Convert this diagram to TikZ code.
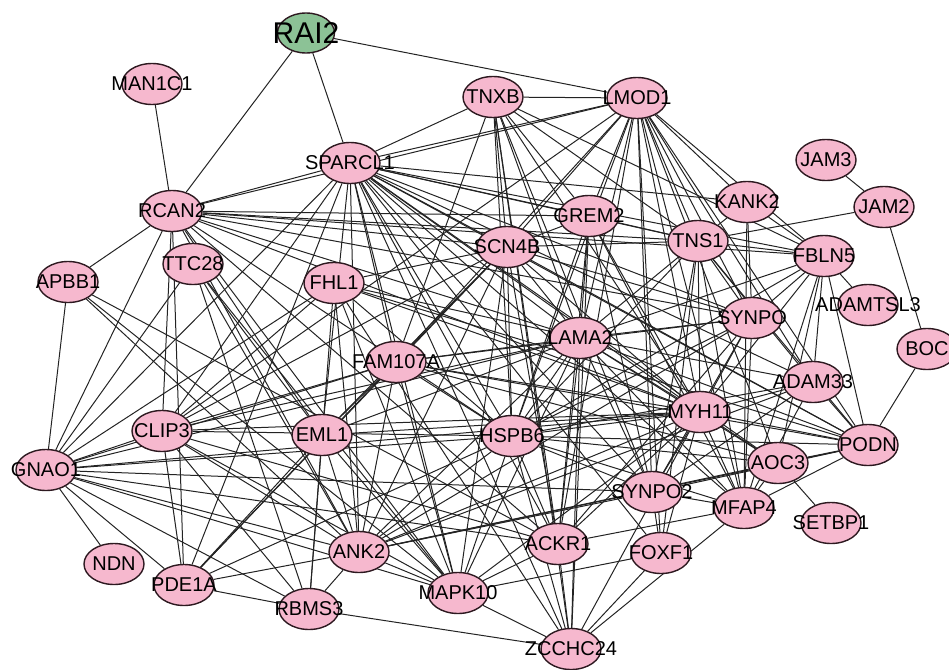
\documentclass[tikz,border=0pt]{standalone}
\usepackage{fontspec}
\setmainfont{Liberation Sans}
\usetikzlibrary{shapes.geometric,backgrounds}
\definecolor{pinkfill}{RGB}{246,184,206}
\definecolor{greenfill}{RGB}{140,194,150}
\definecolor{edgec}{RGB}{35,35,35}
\definecolor{outl}{RGB}{45,25,32}
\tikzset{
  gene/.style={ellipse, draw=outl, fill=pinkfill, line width=1.4pt, minimum width=60pt, minimum height=41pt, inner sep=0pt},
  hub/.style={gene, fill=greenfill, minimum width=57pt, minimum height=40pt},
  lbl/.style={inner sep=0pt, font=\fontsize{20}{20}\selectfont, text=black},
  biglbl/.style={inner sep=0pt, font=\fontsize{30}{30}\selectfont, text=black},
  edge/.style={draw=edgec, line width=1pt}
}
\begin{document}
\begin{tikzpicture}[x=1pt,y=-1pt]
\useasboundingbox (0,0) rectangle (949,669);
% nodes
\node[hub] (RAI2) at (306,33) {};
\node[biglbl] (tRAI2) at (RAI2) {RAI2};
\foreach \n/\x/\y in {
 MAN1C1/152/84, TNXB/493/97, LMOD1/637/98, SPARCL1/350/163, JAM3/826/160,
 RCAN2/172/211, KANK2/747/202, JAM2/884/207, GREM2/589/216, TNS1/698/241,
 SCN4B/507/247, FBLN5/824/256, TTC28/193/264, APBB1/68/282, FHL1/334/283,
 ADAMTSL3/868/305, SYNPO/752/318, LAMA2/580/338, BOC/927/349, FAM107A/396/362,
 ADAM33/813/382, MYH11/700/412, CLIP3/162/431, EML1/322/435, HSPB6/512/436,
 PODN/868/445, AOC3/778/463, GNAO1/46/470, SYNPO2/652/492, MFAP4/744/508,
 SETBP1/831/523, ACKR1/558/544, ANK2/359/552, FOXF1/661/553, NDN/114/564,
 PDE1A/184/585, MAPK10/458/593, RBMS3/309/609, ZCCHC24/571/649}
{
  \node[gene] (\n) at (\x,\y) {};
  \node[lbl] (t\n) at (\n) {\n};
}
% connectors
\begin{pgfonlayer}{background}
\foreach \s/\ts in {
 RAI2/{RCAN2,SPARCL1,LMOD1},
 MAN1C1/{RCAN2},
 JAM3/{JAM2},
 JAM2/{TNS1,BOC},
 BOC/{PODN},
 SETBP1/{AOC3},
 ADAMTSL3/{FBLN5},
 NDN/{GNAO1},
 TNXB/{LMOD1,SPARCL1,GREM2,SCN4B,LAMA2,MYH11,HSPB6,FBLN5,TNS1,ACKR1,FAM107A,ZCCHC24,SYNPO2},
 LMOD1/{SPARCL1,RCAN2,SCN4B,FAM107A,GREM2,LAMA2,HSPB6,ACKR1,MYH11,SYNPO2,FOXF1,MFAP4,TNS1,KANK2,FBLN5,SYNPO,ADAM33,AOC3,PODN,CLIP3},
 SPARCL1/{RCAN2,GREM2,TNS1,FBLN5,KANK2,SCN4B,LAMA2,MYH11,SYNPO,ADAM33,PODN,HSPB6,AOC3,MFAP4,SYNPO2,ACKR1,ZCCHC24,MAPK10,FOXF1,ANK2,EML1,FAM107A,CLIP3,GNAO1,PDE1A},
 RCAN2/{GREM2,TNS1,FBLN5,SCN4B,LAMA2,MYH11,HSPB6,ACKR1,MAPK10,ANK2,EML1,CLIP3,PDE1A,GNAO1,APBB1,SYNPO},
 GREM2/{TNS1,LAMA2,HSPB6,MYH11,ACKR1,SYNPO2,MFAP4,ZCCHC24,SCN4B},
 TNS1/{FBLN5,KANK2,SYNPO,MYH11,MFAP4,SYNPO2,FOXF1,LAMA2,HSPB6,SCN4B,ADAM33,PODN},
 KANK2/{FBLN5,SYNPO,MFAP4},
 FBLN5/{PODN,ADAM33,AOC3,MFAP4,MYH11,LAMA2,HSPB6,SYNPO},
 SCN4B/{FAM107A,FHL1,CLIP3,PDE1A,EML1,LAMA2,MYH11,HSPB6,ACKR1,MAPK10,ANK2,SYNPO,PODN},
 FHL1/{LAMA2,MYH11,PODN,HSPB6,ANK2,RBMS3,MAPK10,GNAO1,ZCCHC24,CLIP3},
 TTC28/{GNAO1,ANK2,MAPK10,RBMS3,EML1},
 APBB1/{GNAO1,ANK2,MAPK10,ACKR1},
 LAMA2/{SYNPO,MYH11,HSPB6,ADAM33,PODN,AOC3,SYNPO2,MFAP4,ACKR1,ZCCHC24,ANK2,MAPK10,FAM107A,CLIP3,GNAO1,EML1},
 SYNPO/{MYH11,HSPB6,ACKR1,SYNPO2,MFAP4,FAM107A,ANK2},
 FAM107A/{CLIP3,EML1,GNAO1,MYH11,PODN,HSPB6,MAPK10,ANK2,AOC3,PDE1A},
 MYH11/{ADAM33,HSPB6,PODN,AOC3,SYNPO2,MFAP4,ACKR1,FOXF1,ZCCHC24,ANK2,MAPK10,CLIP3,GNAO1,EML1},
 ADAM33/{PODN,HSPB6,SYNPO2,MFAP4,ANK2},
 HSPB6/{PODN,AOC3,SYNPO2,MFAP4,ACKR1,ZCCHC24,ANK2,MAPK10,GNAO1,PDE1A,CLIP3},
 PODN/{AOC3,MFAP4,ANK2,SYNPO2},
 AOC3/{MFAP4,ANK2},
 SYNPO2/{FOXF1,MFAP4,GNAO1,ANK2},
 MFAP4/{ZCCHC24,ACKR1},
 ACKR1/{ZCCHC24,GNAO1,CLIP3,MAPK10},
 FOXF1/{MAPK10,ZCCHC24},
 CLIP3/{GNAO1,PDE1A,ANK2,RBMS3,MAPK10},
 EML1/{ANK2,MAPK10,RBMS3,PDE1A},
 GNAO1/{ANK2,MAPK10,RBMS3,PDE1A},
 ANK2/{MAPK10,RBMS3,PDE1A},
 MAPK10/{ZCCHC24},
 RBMS3/{PDE1A,ZCCHC24}}
{
  \foreach \t in \ts { \draw[edge] (\s) -- (\t); }
}
\end{pgfonlayer}
\end{tikzpicture}
\end{document}
